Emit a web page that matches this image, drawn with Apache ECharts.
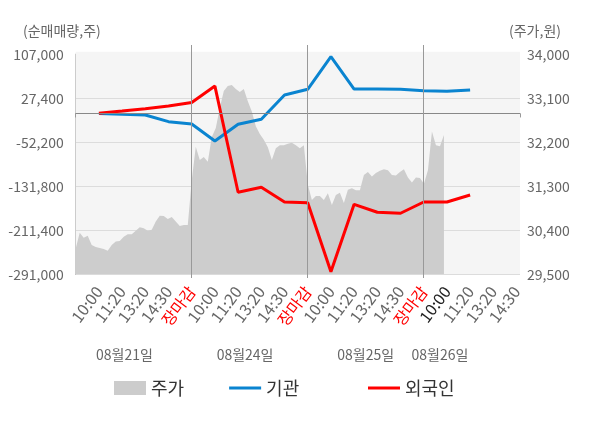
<!DOCTYPE html>
<html>
<head>
<meta charset="utf-8">
<script src="https://cdn.jsdelivr.net/npm/echarts@6/dist/echarts.min.js"></script>
<style>
html,body{margin:0;padding:0;background:#fff;}
#main{width:600px;height:428px;}
</style>
</head>
<body>
<div id="main"></div>
<script>
// x축 시간 라벨 (4일)
var timeLabels = ['10:00','11:20','13:20','14:30','장마감',
                  '10:00','11:20','13:20','14:30','장마감',
                  '10:00','11:20','13:20','14:30','장마감',
                  '10:00','11:20','13:20','14:30'];
var dateLabels = ['08월21일','08월24일','08월25일','08월26일'];
var dayEnds = [5, 10, 15];
// 순매매량 (주)
var instNet = [-300, -1500, -2800, -14900, -19100, -49800, -19600, -10600, 33400,
               43700, 102700, 44200, 44000, 43700, 41200, 40100, 42400];
var foreignNet = [300, 4400, 8600, 13500, 19800, 49500, -142600, -133600, -160200,
                  -161500, -286300, -164400, -178800, -180600, -160200, -160200, -147500];
// 주가 (원)
var price = [30030,30350,30250,30290,30100,30060,30040,30020,29980,30100,
             30170,30180,30270,30320,30320,30390,30460,30440,30390,30410,
             30580,30700,30690,30630,30670,30580,30490,30510,30510,31430,
             32110,31840,31900,31800,32310,32490,32900,33250,33350,33370,
             33290,33230,33290,33040,32830,32530,32370,32250,32100,31840,
             32080,32140,32140,32170,32190,32140,32080,32140,31330,31020,
             31100,31100,31020,31160,30920,31120,31170,30960,31230,31260,
             31220,31220,31530,31590,31500,31570,31620,31650,31630,31530,
             31520,31590,31650,31480,31380,31480,31470,31350,31630,32420,
             32140,32120,32350];
var priceSlots = 112;

var font = 'Noto Sans CJK KR';
var xMax = 19.15;
var datePos = [2.1, 7.3, 12.5, 15.7];
var lineIcon = 'path://M0,0H32V3H0Z';

var priceTicks = [];
for (var i = 0; i < priceSlots; i++) {
  priceTicks.push(String(i));
}
var slotValues = [];
for (var i = 0; i < timeLabels.length; i++) {
  slotValues.push(i + 1);
}
function toPairs(arr) {
  var out = [];
  for (var i = 0; i < arr.length; i++) {
    out.push([i + 1, arr[i]]);
  }
  return out;
}
function comma(v) {
  return Number(v).toLocaleString('en-US');
}

var legendBase = {
  top: 374,
  itemWidth: 32,
  itemHeight: 14,
  itemGap: 45,
  textStyle: { fontSize: 18, color: '#333', fontFamily: font }
};

var chart = echarts.init(document.getElementById('main'));
chart.setOption({
  animation: false,
  textStyle: { fontFamily: font },
  title: [{
    text: '(순매매량,주)', left: 23, top: 24,
    textStyle: { color: '#666', fontSize: 14, fontWeight: 'normal', fontFamily: font }, padding: 0
  }, {
    text: '(주가,원)', left: 509, top: 24,
    textStyle: { color: '#666', fontSize: 14, fontWeight: 'normal', fontFamily: font }, padding: 0
  }],
  grid: [
    { left: 75.7, right: 80, top: 54.3, bottom: 153.7 },
    { left: 75.7, right: 80, top: 51.7, bottom: 153.7, show: true, backgroundColor: '#f5f5f5', borderWidth: 0 },
    { left: 75.7, right: 80, top: 45, bottom: 150 }
  ],
  legend: [
    echarts.util.extend({
      left: 109,
      data: [
        { name: '주가', icon: 'rect' },
        { name: '기관', icon: lineIcon }
      ]
    }, legendBase),
    echarts.util.extend({
      left: 363,
      data: [{ name: '외국인', icon: lineIcon }]
    }, legendBase)
  ],
  xAxis: [{
    gridIndex: 0, type: 'value', min: 0, max: xMax, position: 'bottom',
    axisLine: { lineStyle: { color: '#aaa' } },
    axisTick: { show: true, customValues: [0, xMax], length: 4, lineStyle: { color: '#999' } },
    splitLine: { show: false },
    axisLabel: {
      customValues: slotValues,
      formatter: function (v) { return timeLabels[Math.round(v) - 1] || ''; },
      rotate: 53, margin: 14, fontSize: 16, fontFamily: font,
      color: function (v) {
        var i = Math.round(Number(v)) - 1;
        if (timeLabels[i] == '장마감') return '#ff0000';
        if (i == 15) return '#222';
        return '#666';
      }
    }
  }, {
    gridIndex: 0, type: 'category', show: false, boundaryGap: false, data: priceTicks
  }, {
    gridIndex: 0, type: 'value', min: 0, max: xMax, position: 'bottom', offset: 65,
    axisLine: { show: false }, axisTick: { show: false }, splitLine: { show: false },
    axisLabel: {
      customValues: datePos,
      formatter: function (v) { return dateLabels[datePos.indexOf(v)] || ''; },
      color: '#666', fontSize: 14, margin: 8, fontFamily: font
    }
  }, {
    gridIndex: 1, type: 'value', show: false, min: 0, max: xMax
  }, {
    gridIndex: 2, type: 'value', show: false, min: 0, max: xMax
  }],
  yAxis: [{
    gridIndex: 0, type: 'value', position: 'left',
    min: -291000, max: 107000, interval: 79600,
    axisLine: { show: true, lineStyle: { color: '#999' } },
    axisTick: { show: false },
    splitLine: { show: true, showMaxLine: false, lineStyle: { color: '#dcdcdc' } },
    axisLabel: { formatter: comma, color: '#666', fontSize: 14, margin: 12, fontFamily: font }
  }, {
    gridIndex: 0, type: 'value', position: 'right',
    min: 29500, max: 34000, interval: 900,
    axisLine: { show: true, lineStyle: { color: '#ccc' } },
    axisTick: { show: false },
    splitLine: { show: false },
    axisLabel: { formatter: comma, color: '#666', fontSize: 14, margin: 7, fontFamily: font }
  }, {
    gridIndex: 1, type: 'value', show: false, min: 0, max: 1
  }, {
    gridIndex: 2, type: 'value', show: false, min: 0, max: 1
  }],
  series: [{
    name: '주가', type: 'line', xAxisIndex: 1, yAxisIndex: 1,
    data: price, symbol: 'none', silent: true, z: 1,
    itemStyle: { color: '#cccccc' },
    lineStyle: { width: 0 },
    areaStyle: { color: '#cdcdcd', opacity: 1, origin: 'start' }
  }, {
    name: '기관', type: 'line', xAxisIndex: 0, yAxisIndex: 0,
    data: toPairs(instNet), symbol: 'none', z: 3,
    itemStyle: { color: '#0a84d0' },
    lineStyle: { color: '#0a84d0', width: 3 },
    markLine: {
      silent: true, symbol: 'none', label: { show: false },
      lineStyle: { color: '#888', width: 1, type: 'solid' },
      data: [{ yAxis: 0 }]
    }
  }, {
    name: '외국인', type: 'line', xAxisIndex: 0, yAxisIndex: 0,
    data: toPairs(foreignNet), symbol: 'none', z: 4,
    itemStyle: { color: '#ff0000' },
    lineStyle: { color: '#ff0000', width: 3 }
  }, {
    type: 'line', xAxisIndex: 4, yAxisIndex: 3, data: [], z: 2,
    markLine: {
      silent: true, symbol: 'none', label: { show: false },
      lineStyle: { color: '#999', width: 1, type: 'solid' },
      data: dayEnds.map(function (d) { return { xAxis: d }; })
    }
  }]
});
</script>
</body>
</html>
